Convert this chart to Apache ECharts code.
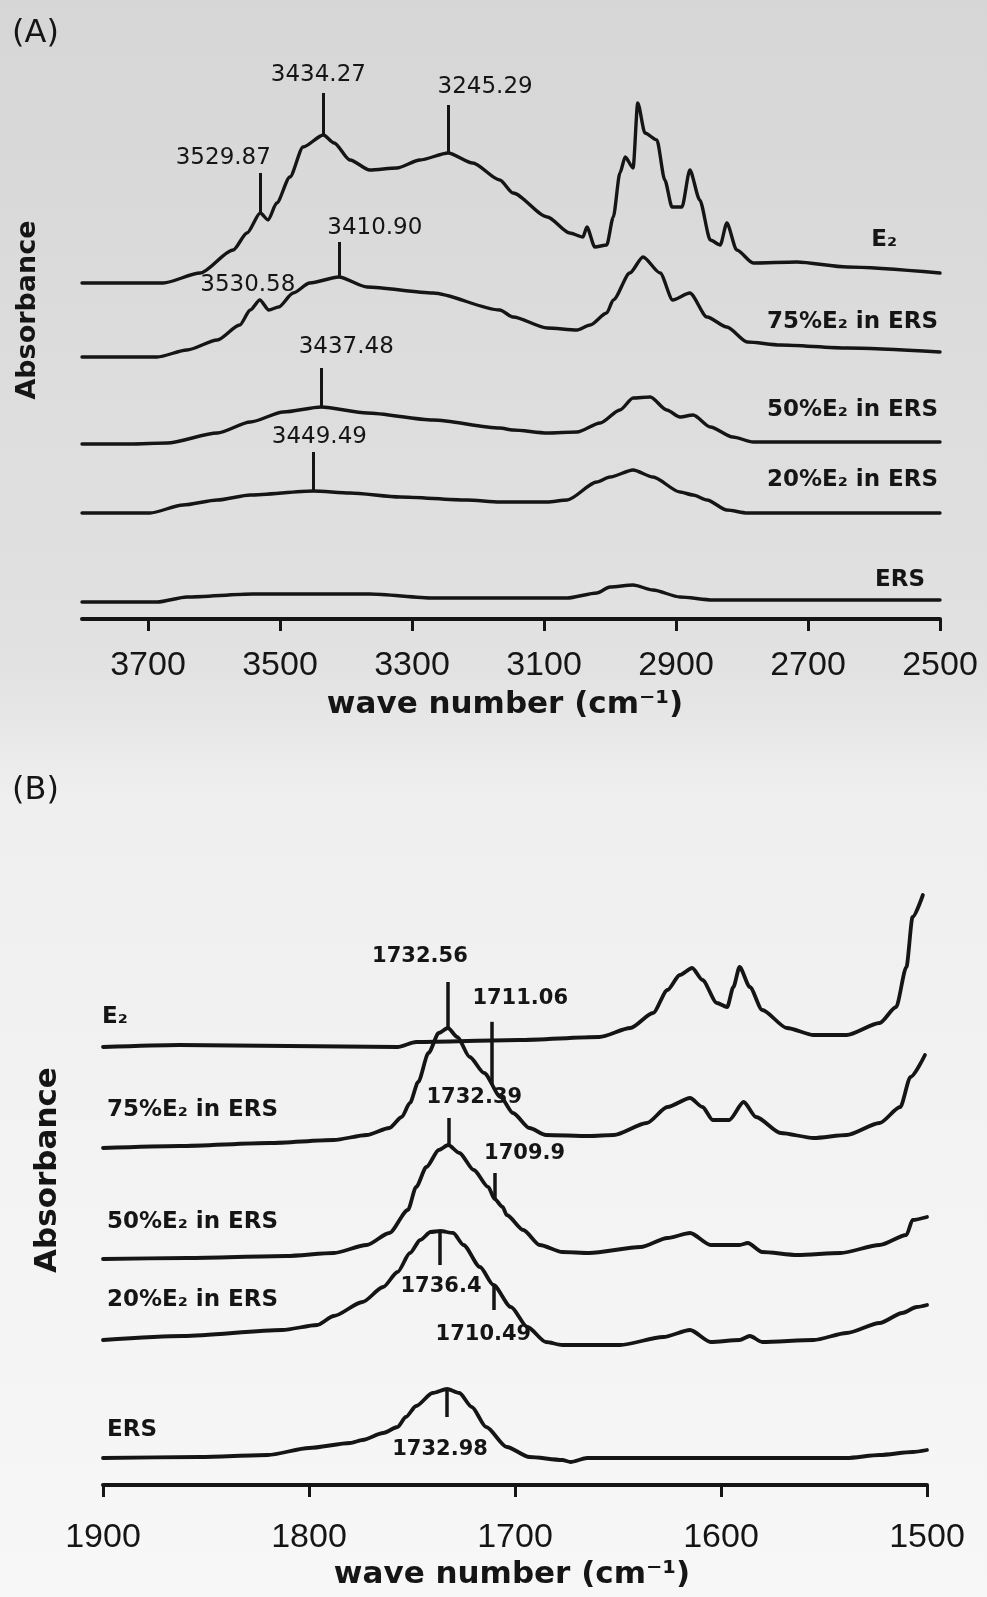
<!DOCTYPE html>
<html>
<head>
<meta charset="utf-8">
<script src="https://cdn.jsdelivr.net/npm/echarts@6/dist/echarts.min.js"></script>
<style>html,body{margin:0;padding:0;background:#fff}#chart{width:987px;height:1597px}</style>
</head>
<body>
<div id="chart"></div>
<script>
// ---------------- data ----------------
const ticksA = [3700, 3500, 3300, 3100, 2900, 2700, 2500];
const ticksB = [1900, 1800, 1700, 1600, 1500];
const curveNames = ['E₂', '75%E₂ in ERS', '50%E₂ in ERS', '20%E₂ in ERS', 'ERS'];

// Panel A: 3800–2500 cm-1 (wave number, offset absorbance)
const A_E2 = [[3800,3.36],[3677,3.36],[3621,3.46],[3571,3.69],[3550,3.86],[3529.87,4.06],[3518,3.99],[3505,4.16],[3485,4.42],[3465,4.72],[3434.27,4.84],[3418,4.76],[3394,4.59],[3364,4.49],[3323,4.51],[3288,4.59],[3245.29,4.66],[3208,4.56],[3167,4.39],[3147,4.26],[3095,4.02],[3061,3.86],[3041,3.82],[3035,3.92],[3023,3.72],[3005,3.74],[2995,4.02],[2985,4.46],[2977,4.62],[2965,4.51],[2958,5.16],[2947,4.86],[2929,4.79],[2917,4.39],[2906,4.12],[2891,4.12],[2879,4.49],[2864,4.19],[2848,3.79],[2833,3.74],[2823,3.96],[2808,3.69],[2783,3.56],[2717,3.57],[2641,3.52],[2500,3.46]];
const A_75 = [[3800,2.62],[3686,2.62],[3641,2.69],[3595,2.79],[3561,2.94],[3545,3.09],[3530.58,3.19],[3517,3.09],[3502,3.12],[3480,3.26],[3455,3.36],[3410.90,3.42],[3368,3.32],[3268,3.26],[3167,3.09],[3147,3.02],[3095,2.91],[3050,2.89],[3030,2.94],[3005,3.06],[2995,3.19],[2970,3.46],[2950,3.62],[2924,3.46],[2905,3.19],[2879,3.26],[2853,3.02],[2823,2.92],[2792,2.77],[2742,2.74],[2641,2.71],[2500,2.67]];
const A_50 = [[3800,1.75],[3727,1.75],[3671,1.76],[3595,1.86],[3545,1.97],[3495,2.07],[3437.48,2.12],[3368,2.06],[3268,1.99],[3167,1.91],[3147,1.89],[3095,1.86],[3050,1.87],[3015,1.96],[2985,2.09],[2965,2.21],[2939,2.22],[2914,2.09],[2894,2.02],[2874,2.04],[2848,1.92],[2814,1.82],[2783,1.77],[2641,1.77],[2500,1.77]];
const A_20 = [[3800,1.06],[3697,1.06],[3647,1.14],[3595,1.19],[3545,1.24],[3449.49,1.28],[3394,1.26],[3318,1.22],[3217,1.19],[3167,1.17],[3095,1.17],[3065,1.19],[3020,1.37],[3000,1.42],[2965,1.49],[2935,1.42],[2894,1.27],[2874,1.24],[2853,1.19],[2823,1.09],[2792,1.06],[2500,1.06]];
const A_ERS = [[3800,0.17],[3686,0.17],[3641,0.22],[3541,0.25],[3364,0.25],[3268,0.21],[3065,0.21],[3020,0.26],[3000,0.32],[2965,0.34],[2935,0.29],[2894,0.22],[2844,0.19],[2500,0.19]];

// Panel B: 1900–1500 cm-1
const B_E2 = [[1900,4.38],[1863,4.40],[1757,4.38],[1748,4.43],[1698,4.45],[1659,4.48],[1644,4.57],[1633,4.72],[1626,4.95],[1620,5.10],[1614,5.17],[1609,5.05],[1602,4.82],[1597,4.78],[1594,4.98],[1591,5.18],[1586,4.98],[1580,4.75],[1568,4.57],[1555,4.50],[1539,4.50],[1523,4.62],[1515,4.78],[1510,5.18],[1507,5.68],[1502,5.90]];
const B_75 = [[1900,3.37],[1863,3.39],[1819,3.42],[1788,3.45],[1772,3.50],[1761,3.57],[1755,3.68],[1751,3.82],[1747,4.03],[1742,4.32],[1737,4.52],[1732.56,4.57],[1728,4.48],[1722,4.28],[1715,4.12],[1707,3.88],[1701,3.72],[1693,3.57],[1685,3.50],[1664,3.49],[1652,3.50],[1636,3.62],[1626,3.78],[1615,3.87],[1609,3.78],[1604,3.65],[1596,3.65],[1589,3.83],[1583,3.68],[1571,3.52],[1555,3.47],[1539,3.50],[1523,3.62],[1513,3.78],[1508,4.08],[1501,4.30]];
const B_50 = [[1900,2.26],[1859,2.27],[1811,2.29],[1788,2.32],[1772,2.40],[1761,2.52],[1752,2.75],[1748,2.98],[1743,3.18],[1737,3.35],[1732.39,3.40],[1727,3.32],[1720,3.15],[1713,2.98],[1709.9,2.86],[1706,2.78],[1704,2.70],[1696,2.55],[1688,2.40],[1677,2.33],[1664,2.32],[1639,2.38],[1626,2.47],[1615,2.52],[1605,2.40],[1591,2.40],[1587,2.42],[1580,2.33],[1563,2.30],[1542,2.32],[1523,2.40],[1510,2.50],[1507,2.65],[1500,2.68]];
const B_20 = [[1900,1.45],[1861,1.49],[1813,1.55],[1796,1.60],[1788,1.69],[1774,1.83],[1764,1.98],[1757,2.13],[1751,2.32],[1746,2.45],[1741,2.53],[1736.4,2.54],[1730,2.52],[1725,2.40],[1717,2.18],[1710.49,2.00],[1702,1.78],[1694,1.58],[1685,1.43],[1677,1.40],[1649,1.40],[1628,1.48],[1615,1.55],[1605,1.43],[1591,1.45],[1586,1.49],[1580,1.43],[1555,1.45],[1539,1.52],[1523,1.62],[1512,1.72],[1505,1.78],[1500,1.80]];
const B_ERS = [[1900,0.27],[1853,0.28],[1820,0.30],[1800,0.37],[1780,0.42],[1774,0.45],[1764,0.52],[1757,0.58],[1753,0.68],[1748,0.79],[1740,0.92],[1732.98,0.96],[1727,0.92],[1721,0.78],[1714,0.58],[1704,0.38],[1693,0.28],[1677,0.25],[1673,0.23],[1665,0.27],[1604,0.27],[1539,0.27],[1523,0.30],[1507,0.33],[1500,0.35]];

// peak annotations
const peakWnA = [3529.87, 3434.27, 3245.29, 3530.58, 3410.90, 3437.48, 3449.49];
const peakTextA = ['3529.87', '3434.27', '3245.29', '3530.58', '3410.90', '3437.48', '3449.49'];
const peakSeriesA = [0, 0, 0, 1, 1, 2, 3];
const peakWnB = [1732.56, 1711.06, 1732.39, 1709.9, 1736.4, 1710.49, 1732.98];
const peakTextB = ['1732.56', '1711.06', '1732.39', '1709.9', '1736.4', '1710.49', '1732.98'];
const peakSeriesB = [1, 1, 2, 2, 3, 3, 4];

// ---------------- layout (px) ----------------
const PX = 100; // pixels per absorbance unit in both grids
// [marker line length (+up / -down), label dx, label dy] relative to far end of marker
const peakLayoutA = [[40,-37,-15],[42,-5,-18],[48,37,-18],[0,-12,-15],[35,36,-14],[39,25,-21],[39,6,-15]];
const peakLayoutB = [[46,-28,-25],[63,28,-23],[27,26,-20],[26,30,-19],[-34,1,22],[-25,-10,25],[-28,-7,33]];
const nameLayoutA = [[-43,-33],[-2,-30],[-2,-32],[-2,-33],[-15,-20]];
const nameLayoutB = [[-1,-30],[4,-38],[4,-37],[4,-40],[4,-28]];

const INK = '#151515';
const FONT = '"DejaVu Sans", "Liberation Sans", sans-serif';

function valueAt(arr, wn) {
  for (let i = 0; i < arr.length - 1; i++) {
    const [x0, y0] = arr[i], [x1, y1] = arr[i + 1];
    if ((wn <= x0 && wn >= x1) || (wn >= x0 && wn <= x1)) {
      return x0 === x1 ? y0 : y0 + (y1 - y0) * (wn - x0) / (x1 - x0);
    }
  }
  return arr[arr.length - 1][1];
}

function buildPanel(cfg) {
  return cfg.curves.map((arr, i) => {
    const lines = [], points = [];
    cfg.peakSeries.forEach((s, k) => {
      if (s !== i) return;
      const wn = cfg.peakWn[k];
      const v = valueAt(arr, wn);
      const [len, dx, dy] = cfg.peakLayout[k];
      const v2 = v + len / PX;
      if (len !== 0) lines.push([{ coord: [wn, v] }, { coord: [wn, v2] }]);
      points.push({
        coord: [wn, v2],
        label: Object.assign({ formatter: cfg.peakText[k], offset: [dx, dy] }, cfg.peakFont)
      });
    });
    const anchor = cfg.nameAt === 'last' ? arr[arr.length - 1] : arr[0];
    const [ndx, ndy] = cfg.nameLayout[i];
    points.push({
      coord: anchor,
      label: { formatter: curveNames[i], offset: [ndx, ndy], align: cfg.nameAlign,
               fontFamily: FONT, fontWeight: 'bold', fontSize: 23, color: INK }
    });
    return {
      type: 'line', name: curveNames[i] + cfg.suffix,
      xAxisIndex: cfg.idx, yAxisIndex: cfg.idx,
      data: arr, showSymbol: false, symbol: 'none',
      smooth: 0.25, smoothMonotone: 'x',
      lineStyle: { color: INK, width: cfg.lw, join: 'round', cap: 'round' }, silent: true, animation: false,
      markLine: { silent: true, symbol: ['none', 'none'], animation: false,
                  lineStyle: { color: INK, width: cfg.tickW, type: 'solid' },
                  label: { show: false }, emphasis: { disabled: true }, data: lines },
      markPoint: { silent: true, symbol: 'circle', symbolSize: 1, animation: false,
                   itemStyle: { color: 'rgba(0,0,0,0)' },
                   label: { show: true, position: 'inside', color: INK },
                   data: points }
    };
  });
}

const seriesA = buildPanel({
  idx: 0, suffix: ' (A)', curves: [A_E2, A_75, A_50, A_20, A_ERS],
  peakWn: peakWnA, peakText: peakTextA, peakSeries: peakSeriesA, peakLayout: peakLayoutA,
  peakFont: { fontFamily: FONT, fontSize: 23, fontWeight: 'normal', color: INK },
  nameAt: 'last', nameAlign: 'right', nameLayout: nameLayoutA, lw: 3.4, tickW: 3
});
const seriesB = buildPanel({
  idx: 1, suffix: ' (B)', curves: [B_E2, B_75, B_50, B_20, B_ERS],
  peakWn: peakWnB, peakText: peakTextB, peakSeries: peakSeriesB, peakLayout: peakLayoutB,
  peakFont: { fontFamily: FONT, fontSize: 21, fontWeight: 'bold', color: INK },
  nameAt: 'first', nameAlign: 'left', nameLayout: nameLayoutB, lw: 3.8, tickW: 3.5
});

function xAxisCfg(gridIndex, min, max, ticks, margin) {
  return {
    gridIndex, type: 'value', min, max, interval: 100, inverse: true,
    axisLine: { show: true, onZero: false, lineStyle: { color: INK, width: 4 } },
    axisTick: { show: true, customValues: ticks, length: 12, lineStyle: { color: INK, width: 3 } },
    axisLabel: { customValues: ticks, margin, color: INK, fontSize: 34,
                 fontFamily: '"Liberation Sans", Arial, sans-serif',
                 formatter: v => String(v) },
    splitLine: { show: false }
  };
}

const chart = echarts.init(document.getElementById('chart'), null, { renderer: 'canvas', width: 987, height: 1597 });
chart.setOption({
  animation: false,
  backgroundColor: { type: 'linear', x: 0, y: 0, x2: 0, y2: 1,
    colorStops: [{ offset: 0, color: '#d6d6d6' }, { offset: 0.42, color: '#e2e2e2' },
                 { offset: 0.5, color: '#efefef' }, { offset: 1, color: '#f7f7f7' }] },
  grid: [
    { left: 82, width: 858, top: 19, height: 600 },
    { left: 103, width: 824, top: 865, height: 620 }
  ],
  xAxis: [
    xAxisCfg(0, 2500, 3800, ticksA, 30),
    xAxisCfg(1, 1500, 1900, ticksB, 36)
  ],
  yAxis: [
    { gridIndex: 0, type: 'value', min: 0, max: 6.0, show: false },
    { gridIndex: 1, type: 'value', min: 0, max: 6.2, show: false }
  ],
  graphic: [
    { type: 'text', x: 12, y: 34, silent: true,
      style: { text: '(A)', font: '32px ' + FONT, fill: INK, align: 'left', verticalAlign: 'middle', textAlign: 'left', textVerticalAlign: 'middle' } },
    { type: 'text', x: 12, y: 791, silent: true,
      style: { text: '(B)', font: '32px ' + FONT, fill: INK, align: 'left', verticalAlign: 'middle', textAlign: 'left', textVerticalAlign: 'middle' } },
    { type: 'text', x: 505, y: 705, silent: true,
      style: { text: 'wave number (cm⁻¹)', font: 'bold 31px ' + FONT, fill: INK, align: 'center', verticalAlign: 'middle', textAlign: 'center', textVerticalAlign: 'middle' } },
    { type: 'text', x: 512, y: 1575, silent: true,
      style: { text: 'wave number (cm⁻¹)', font: 'bold 31px ' + FONT, fill: INK, align: 'center', verticalAlign: 'middle', textAlign: 'center', textVerticalAlign: 'middle' } },
    { type: 'text', x: 28, y: 310, rotation: Math.PI / 2, silent: true,
      style: { text: 'Absorbance', font: 'bold 27px ' + FONT, fill: INK, align: 'center', verticalAlign: 'middle', textAlign: 'center', textVerticalAlign: 'middle' } },
    { type: 'text', x: 48, y: 1170, rotation: Math.PI / 2, silent: true,
      style: { text: 'Absorbance', font: 'bold 31px ' + FONT, fill: INK, align: 'center', verticalAlign: 'middle', textAlign: 'center', textVerticalAlign: 'middle' } }
  ],
  series: seriesA.concat(seriesB)
});
</script>
</body>
</html>
